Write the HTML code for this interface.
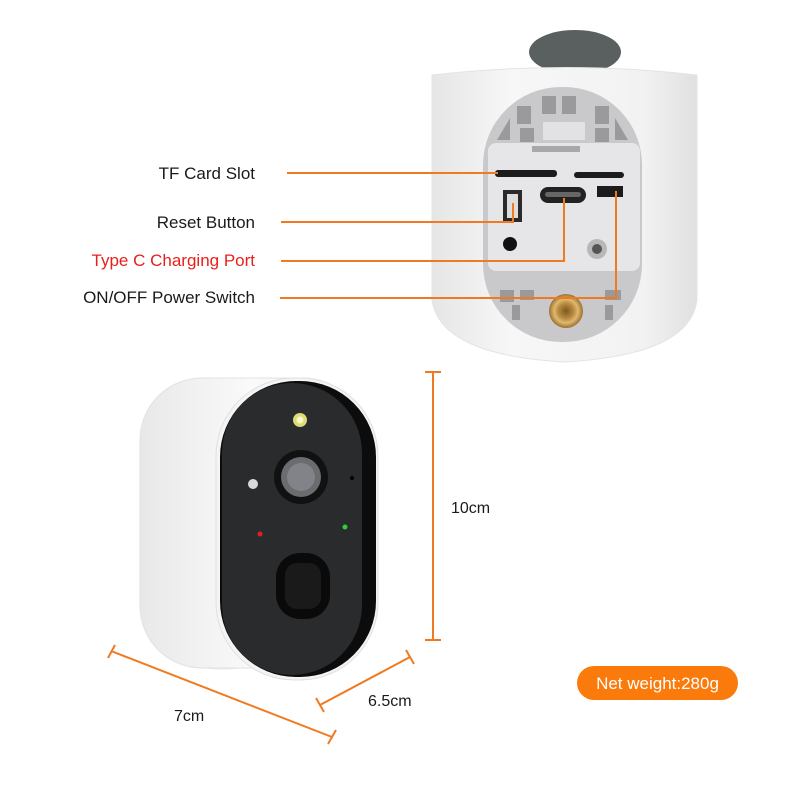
<!DOCTYPE html>
<html><head><meta charset="utf-8"><style>
html,body{margin:0;padding:0;background:#fff;}
svg{display:block}
text{font-family:"Liberation Sans",Arial,sans-serif;}
</style></head><body>
<svg width="800" height="800" viewBox="0 0 800 800" xmlns="http://www.w3.org/2000/svg">
<defs>
<linearGradient id="bw" x1="0" x2="1"><stop offset="0" stop-color="#e6e6e6"/><stop offset=".3" stop-color="#f7f7f7"/><stop offset=".8" stop-color="#f2f2f2"/><stop offset="1" stop-color="#e0e0e0"/></linearGradient>
<radialGradient id="brass"><stop offset="0" stop-color="#7a5a20"/><stop offset=".45" stop-color="#b88a40"/><stop offset=".7" stop-color="#e0b870"/><stop offset="1" stop-color="#9a7030"/></radialGradient>
<linearGradient id="side" x1="0" x2="1"><stop offset="0" stop-color="#e8e8e8"/><stop offset=".5" stop-color="#fafafa"/><stop offset="1" stop-color="#ececec"/></linearGradient>
</defs>
<!-- top camera -->
<ellipse cx="575" cy="52" rx="46" ry="22" fill="#5a6060"/>
<path d="M432 75 Q565 60 697 75 L697 300 Q690 355 565 362 Q440 355 432 300 Z" fill="url(#bw)" stroke="#e4e4e4"/>
<rect x="483" y="87" width="159" height="255" rx="78" fill="#c9c9cb"/>
<g fill="#9a9a9c">
<rect x="542" y="96" width="14" height="18"/><rect x="562" y="96" width="14" height="18"/>
<rect x="517" y="106" width="14" height="18"/><rect x="595" y="106" width="14" height="18"/>
<rect x="520" y="128" width="14" height="14"/><rect x="595" y="128" width="14" height="14"/>
<path d="M497 140 L510 118 L510 140Z"/><path d="M628 140 L615 118 L615 140Z"/>
<rect x="500" y="290" width="14" height="12"/><rect x="520" y="290" width="14" height="10"/>
<rect x="605" y="290" width="16" height="10"/><rect x="512" y="305" width="8" height="15"/><rect x="605" y="305" width="8" height="15"/>
</g>
<rect x="543" y="122" width="42" height="18" fill="#e2e2e4"/>
<rect x="488" y="143" width="152" height="128" rx="8" fill="#e6e6e8"/>
<rect x="532" y="146" width="48" height="6" fill="#a8a8aa"/>
<rect x="495" y="170" width="62" height="7" rx="3" fill="#1c1c1c"/>
<rect x="574" y="172" width="50" height="6" rx="3" fill="#1c1c1c"/>
<rect x="540" y="187" width="46" height="16" rx="8" fill="#222"/>
<rect x="545" y="192" width="36" height="5" rx="2.5" fill="#666"/>
<rect x="597" y="186" width="26" height="11" fill="#1c1c1c"/>
<rect x="503" y="190" width="19" height="32" fill="#2a2a2a"/><rect x="507" y="194" width="11" height="24" fill="#ddd"/>
<circle cx="510" cy="244" r="7" fill="#111"/>
<circle cx="597" cy="249" r="10" fill="#b8b8b8"/><circle cx="597" cy="249" r="5" fill="#555"/>
<circle cx="566" cy="311" r="17" fill="url(#brass)"/>
<g stroke="#f07a20" stroke-width="2" fill="none">
<path d="M287 173 H498"/>
<path d="M281 222 H513 V203"/>
<path d="M281 261 H564 V198"/>
<path d="M280 298 H616 V191"/>
</g>
<g font-size="17" text-anchor="end" fill="#1a1a1a">
<text x="255" y="179">TF Card Slot</text>
<text x="255" y="228">Reset Button</text>
<text x="255" y="266" fill="#e8201b">Type C Charging Port</text>
<text x="255" y="303">ON/OFF Power Switch</text>
</g>
<!-- bottom camera -->
<path d="M200 645 L200 668 Q230 672 260 665 L255 640Z" fill="#e6e6e6"/>
<rect x="140" y="378" width="225" height="290" rx="62" fill="url(#side)" stroke="#e2e2e2"/>
<rect x="216" y="378" width="162" height="302" rx="78" fill="#f4f4f4" stroke="#e0e0e0"/>
<rect x="220" y="381" width="156" height="296" rx="76" fill="#0c0c0c"/>
<rect x="222" y="383" width="140" height="292" rx="70" fill="#2a2b2d"/>
<circle cx="301" cy="477" r="27" fill="#111"/>
<circle cx="301" cy="477" r="20" fill="#6a6c70"/>
<circle cx="301" cy="477" r="14" fill="#818388"/>
<circle cx="300" cy="420" r="7" fill="#d8dc7a"/><circle cx="300" cy="420" r="3.5" fill="#f6f8c0"/>
<circle cx="253" cy="484" r="5" fill="#d8d8d8"/>
<circle cx="260" cy="534" r="2.5" fill="#e02020"/>
<circle cx="345" cy="527" r="2.5" fill="#30d030"/>
<circle cx="352" cy="478" r="2" fill="#000"/>
<rect x="276" y="553" width="54" height="66" rx="24" fill="#0a0a0a"/>
<rect x="285" y="563" width="36" height="46" rx="12" fill="#1a1a1a"/>
<g stroke="#f07a20" stroke-width="2" fill="none">
<path d="M433 372 V640 M425 372 H441 M425 640 H441"/>
<path d="M111 651 L332 737 M108 658 L115 645 M328 744 L336 730"/>
<path d="M320 705 L410 657 M316 698 L324 712 M406 650 L414 664"/>
</g>
<g font-size="16" fill="#1a1a1a">
<text x="451" y="513">10cm</text>
<text x="174" y="721">7cm</text>
<text x="368" y="706">6.5cm</text>
</g>
<rect x="577" y="666" width="161" height="34" rx="17" fill="#fb7a0c"/>
<text x="657.5" y="689" font-size="17" fill="#fff" text-anchor="middle">Net weight:280g</text>
</svg>
</body></html>
